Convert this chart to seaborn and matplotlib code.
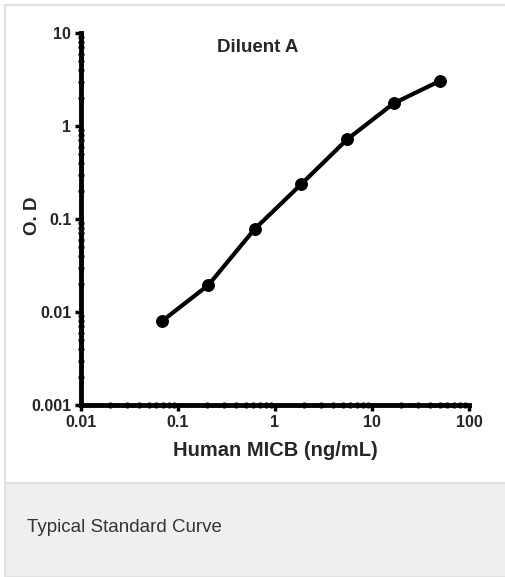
import seaborn as sns
import matplotlib.pyplot as plt
import matplotlib.ticker as mticker
from matplotlib.patches import Rectangle
import pandas as pd

# data (3-fold serial dilution)
concentration = [0.0686, 0.206, 0.617, 1.85, 5.56, 16.7, 50.0]
od = [0.0080, 0.0195, 0.078, 0.235, 0.72, 1.75, 3.05]
x_ticks = [0.01, 0.1, 1, 10, 100]
x_tick_labels = ["0.01", "0.1", "1", "10", "100"]
y_ticks = [0.001, 0.01, 0.1, 1, 10]
y_tick_labels = ["0.001", "0.01", "0.1", "1", "10"]

df = pd.DataFrame({"conc": concentration, "od": od})

sns.set_style("white")
plt.rcParams["font.family"] = ["Liberation Sans Narrow", "Liberation Sans", "DejaVu Sans"]

fig = plt.figure(figsize=(5.06, 5.77), dpi=100)

# panel border and caption band
fig.patches.append(Rectangle((5 / 506, 94 / 577), 1.0, 478 / 577, transform=fig.transFigure,
                             facecolor="white", edgecolor="#e2e2e2", linewidth=1.5, zorder=-5))
fig.patches.append(Rectangle((5 / 506, 0), 1.0, 94 / 577, transform=fig.transFigure,
                             facecolor="#eef0ef", edgecolor="#e2e2e2", linewidth=1.5, zorder=-5))
fig.text(27 / 506, 1 - 527 / 577, "Typical Standard Curve", fontsize=13.5, color="#333333",
         family=["Liberation Sans", "DejaVu Sans"], va="center", ha="left")

ax = fig.add_axes([81 / 506, 1 - 405 / 577, 388 / 506, 372 / 577])
ax.set_facecolor("none")
ax.set_zorder(2)

sns.lineplot(data=df, x="conc", y="od", ax=ax, color="black", linewidth=3,
             marker="o", markersize=8.5, markeredgecolor="black", markerfacecolor="black")

ax.set_xscale("log")
ax.set_yscale("log")
ax.set_xlim(0.01, 100)
ax.set_ylim(0.001, 10)

ax.set_xticks(x_ticks)
ax.set_xticklabels(x_tick_labels)
ax.set_yticks(y_ticks)
ax.set_yticklabels(y_tick_labels)
ax.xaxis.set_minor_locator(mticker.LogLocator(base=10, subs=range(2, 10)))
ax.yaxis.set_minor_locator(mticker.LogLocator(base=10, subs=range(2, 10)))
ax.xaxis.set_minor_formatter(mticker.NullFormatter())
ax.yaxis.set_minor_formatter(mticker.NullFormatter())

for lab in ax.get_xticklabels() + ax.get_yticklabels():
    lab.set_fontweight("bold")
    lab.set_fontsize(11.5)

ax.tick_params(axis="both", which="major", direction="out", length=4, width=2.5,
               color="black", pad=3, bottom=True, left=True)
ax.tick_params(axis="both", which="minor", direction="inout", length=4, width=1.8,
               color="black", bottom=True, left=True)

for side in ["top", "right"]:
    ax.spines[side].set_visible(False)
for side in ["left", "bottom"]:
    ax.spines[side].set_linewidth(3.5)
    ax.spines[side].set_color("black")

ax.set_xlabel("Human MICB (ng/mL)", fontsize=14.5, fontweight="bold", labelpad=8)
ax.set_ylabel("O. D", fontsize=13.5, fontweight="bold")
ax.yaxis.set_label_coords(-0.104, 0.51)
ax.text(0.455, 0.96, "Diluent A", transform=ax.transAxes, fontsize=13.5,
        fontweight="bold", ha="center", va="center")

fig.savefig("out.png", dpi=100)
